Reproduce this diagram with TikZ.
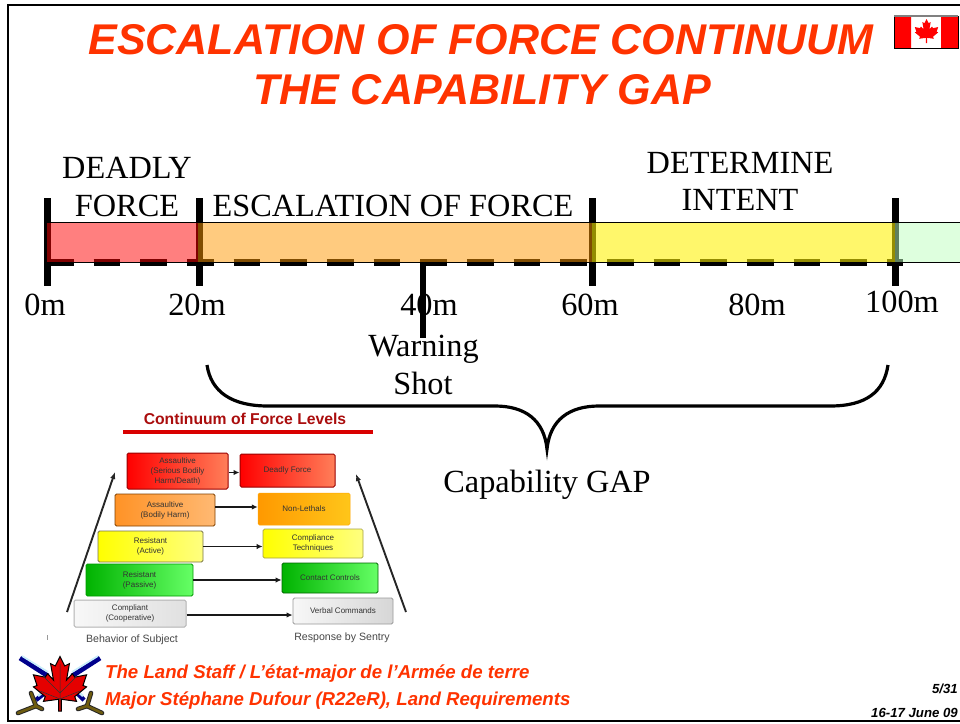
\documentclass[tikz,border=0pt]{standalone}
\usepackage{fontspec}
\setmainfont{Liberation Serif}
\newfontfamily\arialf{Liberation Sans}
\usetikzlibrary{arrows.meta}
\definecolor{titlered}{HTML}{FF3300}
\definecolor{hiltgold}{HTML}{6E5C10}
\definecolor{zoneorange}{HTML}{FF9900}
\newcommand{\leafshape}{(0,-1) -- (.16,-.68) -- (.32,-.76) -- (.22,-.2) -- (.42,-.42) -- (.5,-.3) -- (.9,-.38) -- (.78,-.02) -- (.9,.03) -- (.5,.36) -- (.56,.52) -- (.05,.45) -- (.05,.85) -- (-.05,.85) -- (-.05,.45) -- (-.56,.52) -- (-.5,.36) -- (-.9,.03) -- (-.78,-.02) -- (-.9,-.38) -- (-.5,-.3) -- (-.42,-.42) -- (-.22,-.2) -- (-.32,-.76) -- (-.16,-.68) -- cycle}
\tikzset{
  big/.style={font=\fontsize{32.3}{32.3}\selectfont,inner sep=0pt,text=black},
  ttl/.style={font=\arialf\bfseries\itshape\fontsize{43}{43}\selectfont,text=titlered,inner sep=0pt},
  foot/.style={font=\arialf\bfseries\itshape\fontsize{18.65}{18.65}\selectfont,text=titlered,inner sep=0pt,anchor=west},
  pagefoot/.style={font=\arialf\bfseries\itshape\fontsize{13.2}{13.2}\selectfont,text=black,inner sep=0pt,anchor=east},
  tick/.style={line width=7pt,black},
  zone/.style={fill opacity=.5,draw=none},
  lvl/.style={font=\arialf\fontsize{8}{10}\selectfont,align=center,inner sep=0pt,text=black!80,rounded corners=1.5pt},
  flow/.style={-{Latex[length=6pt,width=5.5pt]},line width=1.9pt,black!90},
  side/.style={-{Latex[length=7pt,width=5.5pt]},line width=1.9pt,black!85},
  caplbl/.style={font=\arialf\fontsize{10.6}{10.6}\selectfont,inner sep=0pt,text=black!72},
  blade/.style={line width=4.8pt,blue!55!black},
  edge/.style={line width=1.7pt,cyan!22},
  hiltb/.style={line width=4.6pt,black!85,line cap=round,line join=round},
  hiltg/.style={line width=2.6pt,hiltgold,line cap=round,line join=round},
}
\begin{document}
\begin{tikzpicture}[x=1pt,y=-1pt]
\useasboundingbox (0,0) rectangle (960,723);
\fill[white] (0,0) rectangle (960,723);
% frame
\draw[line width=2pt] (960,5) -- (8,5) -- (8,721) -- (960,721);
% title
\node[ttl] (t1) at (481,40) {ESCALATION OF FORCE CONTINUUM};
\node[ttl] (t2) at (482,90) {THE CAPABILITY GAP};
% flag
\fill[white] (894,16) rectangle (958,48);
\fill[red] (894,16) rectangle (911,48) (941,16) rectangle (958,48);
\fill[red,shift={(926.5,32)},scale=13] \leafshape;
\draw[line width=.9pt] (894,16) rectangle (958,48);
\draw[black!50,line width=1.3pt] (894,16) -- (958,16);
% bar: black marks below, translucent zones above
\draw[line width=6.4pt,dash pattern=on 26.67pt off 20pt] (47,262.5) -- (903,262.5);
\coordinate (a0) at (47,198);\coordinate (b0) at (47,286);
\coordinate (a20) at (199,198);\coordinate (b20) at (199,286);
\coordinate (a60) at (592,198);\coordinate (b60) at (592,286);
\coordinate (a100) at (895,198);\coordinate (b100) at (895,286);
\coordinate (a40) at (423,264);\coordinate (b40) at (423,338);
\draw[tick] (a0) -- (b0);
\draw[tick] (a20) -- (b20);
\draw[tick] (a60) -- (b60);
\draw[tick] (a100) -- (b100);
\draw[tick,line width=6.4pt] (a40) -- (b40);
\fill[zone,fill=red] (47,222) rectangle (198,262);
\fill[zone,fill=zoneorange] (198,222) rectangle (592,262);
\fill[zone,fill=yellow,fill opacity=.58] (592,222) rectangle (895,262);
\fill[zone,fill=green!25] (895,222) rectangle (960,262);
\draw[line width=.8pt] (47,222) -- (960,222) (47,262) -- (960,262);
% labels
\node[big] (d1) at (127,168) {DEADLY};
\node[big] (d2) at (127,206) {FORCE};
\node[big] (e) at (393,206) {ESCALATION OF FORCE};
\node[big] (i1) at (740,163) {DETERMINE};
\node[big] (i2) at (740,200) {INTENT};
\node[big] (m0) at (45,305) {0m};
\node[big] (m20) at (197,305) {20m};
\node[big] (m40) at (429,304.5) {40m};
\node[big] (m60) at (590,305) {60m};
\node[big] (m80) at (757,305) {80m};
\node[big] (m100) at (902,302) {100m};
\node[big] (w1) at (423.5,349) {Warning};
\node[big] (w2) at (423,383) {Shot};
\node[big] (gap) at (547,484.5) {Capability GAP};
% brace
\draw[line width=3.2pt] (207,365) .. controls (211,392) and (232,406) .. (268,406) -- (495,406) .. controls (525,406) and (544,420) .. (547,449) .. controls (550,420) and (569,406) .. (599,406) -- (830,406) .. controls (866,406) and (884,392) .. (888,365);
% inset
\node[font=\arialf\bfseries\fontsize{15.7}{15.7}\selectfont,text=red!65!black!95,inner sep=0pt] (ct) at (245,419) {Continuum of Force Levels};
\fill[red!85!black] (123,430) rectangle (373,433.5);
\path[rounded corners=1.5pt,left color=red,right color=red!55!orange!65!white] (127,453) rectangle (228,489);
\path[rounded corners=1.5pt,left color=red,right color=red!55!orange!65!white] (240,454) rectangle (335,487);
\path[rounded corners=1.5pt,left color=orange!85!white,right color=orange!55!white] (115,494) rectangle (215,526);
\path[rounded corners=1.5pt,left color=orange!80!yellow,right color=orange!50!yellow!90!white] (258,493) rectangle (350,525);
\path[rounded corners=1.5pt,left color=yellow,right color=yellow!50!white] (98,531) rectangle (203,562);
\path[rounded corners=1.5pt,left color=yellow,right color=yellow!50!white] (263,529) rectangle (363,558);
\path[rounded corners=1.5pt,left color=green!70!black,right color=green!60!white] (86,564) rectangle (193,596);
\path[rounded corners=1.5pt,left color=green!70!black,right color=green!60!white] (282,563) rectangle (378,593);
\path[rounded corners=1.5pt,left color=black!3,right color=black!12] (74,600) rectangle (186,627);
\path[rounded corners=1.5pt,left color=black!3,right color=black!16] (293,598) rectangle (393,624);
\node[lvl,draw=red!60!black,line width=1pt,minimum width=101,minimum height=36] (l1) at (177.5,471) {Assaultive\\(Serious Bodily\\Harm/Death)};
\node[lvl,draw=red!60!black,line width=1pt,minimum width=95,minimum height=33] (r1) at (287.5,470.5) {Deadly Force};
\node[lvl,draw=orange!50!black,line width=.9pt,minimum width=100,minimum height=32] (l2) at (165,510) {Assaultive\\(Bodily Harm)};
\node[lvl,draw=orange!70!yellow,line width=.5pt,minimum width=92,minimum height=32] (r2) at (304,509) {Non-Lethals};
\node[lvl,draw=yellow!40!black,line width=.8pt,minimum width=105,minimum height=31] (l3) at (150.5,546.5) {Resistant\\(Active)};
\node[lvl,draw=yellow!60!black,line width=.7pt,minimum width=100,minimum height=29] (r3) at (313,543.5) {Compliance\\Techniques};
\node[lvl,draw=green!60!black,line width=.8pt,minimum width=107,minimum height=32] (l4) at (139.5,580) {Resistant\\(Passive)};
\node[lvl,draw=green!40!black,line width=.8pt,minimum width=96,minimum height=30] (r4) at (330,578) {Contact Controls};
\node[lvl,draw=black!30,line width=1pt,minimum width=112,minimum height=27] (l5) at (130,613.5) {Compliant\\(Cooperative)};
\node[lvl,draw=black!40,line width=.9pt,minimum width=100,minimum height=26] (r5) at (343,611) {Verbal Commands};
\draw[flow] ([yshift=-1.5pt]l1.east) -- ([yshift=-2pt]r1.west);
\draw[flow] ([yshift=3pt]l2.east) -- ([yshift=2pt]r2.west);
\draw[flow] (l3.east) -- (l3.east -| r3.west);
\draw[flow] (l4.east) -- (l4.east -| r4.west);
\draw[flow] ([yshift=-1.5pt]l5.east) -- ([yshift=-1.5pt]l5.east -| r5.west);
\coordinate (sl0) at (67,612);\coordinate (sl1) at (115,472);
\coordinate (sr0) at (406,612);\coordinate (sr1) at (356,474);
\draw[side] (sl0) -- (sl1);
\draw[side] (sr0) -- (sr1);
\node[caplbl] (c1) at (132,640) {Behavior of Subject};
\node[caplbl] (c2) at (342,638) {Response by Sentry};
\draw[black!40,line width=.6pt] (47,635) -- (47,640);
% logo
\draw[blade] (100,658) -- (72,676);
\draw[blade] (20,658) -- (48,676);
\draw[edge] (98,656) -- (72,672);
\draw[edge] (22,656) -- (48,672);
\draw[line width=4.4pt,blue!55!black] (46,692) -- (36,700);
\draw[line width=4.4pt,blue!55!black] (76,692) -- (84,700);
\draw[line width=2.4pt,cyan!22] (46,690) -- (38,696);
\draw[line width=2.4pt,cyan!22] (76,690) -- (83,696);
\draw[hiltb] (31,693) -- (36,706) -- (18,713);
\draw[hiltb] (91,693) -- (87,706) -- (102,713);
\draw[hiltb] (36,706) -- (42,709);
\draw[hiltb] (87,706) -- (78,709);
\draw[hiltg] (31,693) -- (36,706) -- (18,713);
\draw[hiltg] (91,693) -- (87,706) -- (102,713);
\draw[hiltg] (36,706) -- (42,709);
\draw[hiltg] (87,706) -- (78,709);
\fill[red!90!black,draw=black,line width=1pt,shift={(60,686)},scale=29.5] \leafshape;
\draw[black!80,line width=.5pt] (60,664) -- (60,709) (60,693) -- (43,676) (60,693) -- (77,676) (60,699) -- (40,691) (60,699) -- (80,691);
% footer
\node[foot] (f1) at (105,674) {The Land Staff / L’état-major de l’Armée de terre};
\node[foot] (f2) at (105,701) {Major Stéphane Dufour (R22eR), Land Requirements};
\node[pagefoot] (p1) at (958,689) {5/31};
\node[pagefoot] (p2) at (958,713) {16-17 June 09};
\end{tikzpicture}
\end{document}
